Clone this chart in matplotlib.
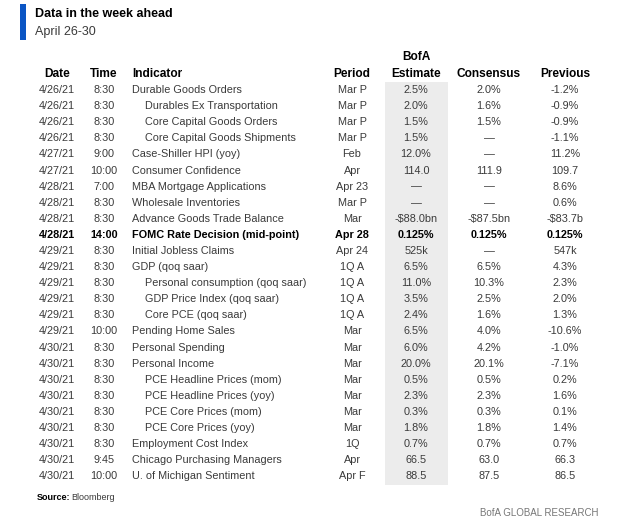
import matplotlib
matplotlib.use("Agg")
import matplotlib.pyplot as plt
from matplotlib.patches import Rectangle

dates = ["4/26/21"] * 4 + ["4/27/21"] * 2 + ["4/28/21"] * 4 + ["4/29/21"] * 6 + ["4/30/21"] * 9
times = ["8:30", "8:30", "8:30", "8:30", "9:00", "10:00", "7:00", "8:30", "8:30", "14:00",
         "8:30", "8:30", "8:30", "8:30", "8:30", "10:00", "8:30", "8:30", "8:30", "8:30",
         "8:30", "8:30", "8:30", "9:45", "10:00"]
indicators = ["Durable Goods Orders", "Durables Ex Transportation", "Core Capital Goods Orders",
              "Core Capital Goods Shipments", "Case-Shiller HPI (yoy)", "Consumer Confidence",
              "MBA Mortgage Applications", "Wholesale Inventories", "Advance Goods Trade Balance",
              "FOMC Rate Decision (mid-point)", "Initial Jobless Claims", "GDP (qoq saar)",
              "Personal consumption (qoq saar)", "GDP Price Index (qoq saar)", "Core PCE (qoq saar)",
              "Pending Home Sales", "Personal Spending", "Personal Income",
              "PCE Headline Prices (mom)", "PCE Headline Prices (yoy)", "PCE Core Prices (mom)",
              "PCE Core Prices (yoy)", "Employment Cost Index", "Chicago Purchasing Managers",
              "U. of Michigan Sentiment"]
indented = [False, True, True, True, False, False, False, False, False, False, False, False,
            True, True, True, False, False, False, True, True, True, True, False, False, False]
periods = ["Mar P", "Mar P", "Mar P", "Mar P", "Feb", "Apr", "Apr 23", "Mar P", "Mar", "Apr 28",
           "Apr 24", "1Q A", "1Q A", "1Q A", "1Q A", "Mar", "Mar", "Mar", "Mar", "Mar", "Mar",
           "Mar", "1Q", "Apr", "Apr F"]
bofa = ["2.5%", "2.0%", "1.5%", "1.5%", "12.0%", "114.0", "\u2014", "\u2014", "-$88.0bn", "0.125%",
        "525k", "6.5%", "11.0%", "3.5%", "2.4%", "6.5%", "6.0%", "20.0%", "0.5%", "2.3%", "0.3%",
        "1.8%", "0.7%", "66.5", "88.5"]
consensus = ["2.0%", "1.6%", "1.5%", "\u2014", "\u2014", "111.9", "\u2014", "\u2014", "-$87.5bn", "0.125%",
             "\u2014", "6.5%", "10.3%", "2.5%", "1.6%", "4.0%", "4.2%", "20.1%", "0.5%", "2.3%", "0.3%",
             "1.8%", "0.7%", "63.0", "87.5"]
previous = ["-1.2%", "-0.9%", "-0.9%", "-1.1%", "11.2%", "109.7", "8.6%", "0.6%", "-$83.7b", "0.125%",
            "547k", "4.3%", "2.3%", "2.0%", "1.3%", "-10.6%", "-1.0%", "-7.1%", "0.2%", "1.6%", "0.1%",
            "1.4%", "0.7%", "66.3", "86.5"]
bold_rows = [9]

FONT = ["Liberation Sans", "DejaVu Sans"]
GREY = "#3a3a3a"

fig = plt.figure(figsize=(6.3, 5.26), dpi=100)
ax = fig.add_axes([0, 0, 1, 1])
ax.set_xlim(0, 630)
ax.set_ylim(526, 0)
ax.axis("off")

# header block
ax.add_patch(Rectangle((20, 4), 6, 36, color="#0b55c4", lw=0))
ax.text(35, 14, "Data in the week ahead", fontsize=9, fontweight="bold",
        family=FONT, va="center", color="black")
ax.text(35, 32, "April 26-30", fontsize=9, family=FONT, va="center", color=GREY)

# shaded BofA column
ax.add_patch(Rectangle((385, 82), 63, 403, color="#ececec", lw=0))

hy = 74
hdr = dict(fontsize=8.6, fontweight="bold", family=FONT, va="center", color="black")
ax.text(57, hy, "Date", ha="center", **hdr)
ax.text(104, hy, "Time", ha="center", **hdr)
ax.text(132, hy, "Indicator", ha="left", **hdr)
ax.text(352, hy, "Period", ha="center", **hdr)
ax.text(416, hy - 17, "BofA", ha="center", **hdr)
ax.text(416, hy, "Estimate", ha="center", **hdr)
ax.text(489, hy, "Consensus", ha="center", **hdr)
ax.text(565, hy, "Previous", ha="center", **hdr)

y0, dy = 90, 16.1
for i in range(len(dates)):
    y = y0 + i * dy
    b = i in bold_rows
    kw = dict(fontsize=7.8, family=FONT, va="center",
              fontweight="bold" if b else "normal",
              color="black" if b else GREY)
    ax.text(57, y, dates[i], ha="center", **kw)
    ax.text(104, y, times[i], ha="center", **kw)
    ax.text(145 if indented[i] else 132, y, indicators[i], ha="left", **kw)
    ax.text(352, y, periods[i], ha="center", **kw)
    ax.text(416, y, bofa[i], ha="center", **kw)
    ax.text(489, y, consensus[i], ha="center", **kw)
    ax.text(565, y, previous[i], ha="center", **kw)

ax.text(37, 498, "Source:", fontsize=6.5, fontweight="bold", family=FONT, va="center", color="black")
ax.text(71, 498, "Bloomberg", fontsize=6.5, family=FONT, va="center", color=GREY)
ax.text(598, 513, "BofA GLOBAL RESEARCH", fontsize=7, family=FONT, ha="right",
        va="center", color="#777777")

fig.savefig("out.png", dpi=100, facecolor="white")
